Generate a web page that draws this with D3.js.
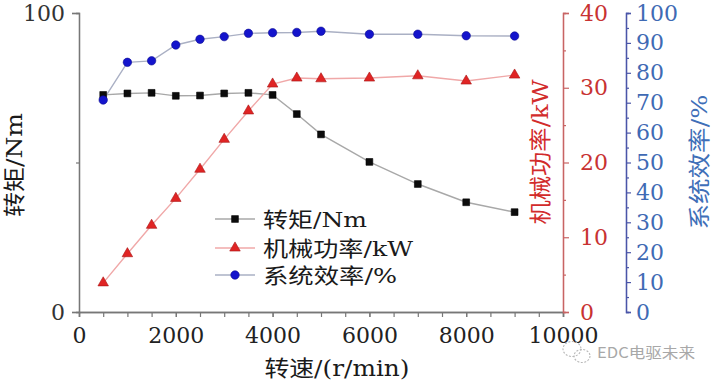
<!DOCTYPE html>
<html><head><meta charset="utf-8">
<script src="https://cdn.jsdelivr.net/npm/d3@7"></script>
<style>
html,body{margin:0;padding:0;background:#fff;}
svg{display:block;}
</style></head>
<body>
<svg id="c" width="718" height="382"></svg>
<script>
// ---- data ----
const speed = [500,1000,1500,2000,2500,3000,3500,4000,4500,5000,6000,7000,8000,9000];
const torque = [72.6,73.1,73.3,72.3,72.4,73.1,73.3,72.6,66.2,59.4,50.2,42.8,36.7,33.4];
const power = [3.9,7.8,11.6,15.2,19.1,23.1,26.9,30.5,31.3,31.2,31.3,31.6,30.9,31.7];
const efficiency = [70.9,83.5,84.0,89.3,91.2,92.1,93.2,93.4,93.5,93.9,92.9,92.9,92.4,92.3];
const xTicks = [0,2000,4000,6000,8000,10000];
const leftTicks = [0,100];
const redTicks = [0,10,20,30,40];
const blueTicks = [0,10,20,30,40,50,60,70,80,90,100];
const seriesNames = ["转矩/Nm","机械功率/kW","系统效率/%"];
const xTitle = "转速/(r/min)";
const watermark = "EDC电驱未来";

// ---- layout ----
const L = 79, R = 563, T = 13, B = 312, BX = 626;
const svg = d3.select("#c");
const numFont = "'DejaVu Serif','Liberation Serif',serif";
const cjkFont = "'DejaVu Serif','Noto Sans CJK SC',sans-serif";

const x = d3.scaleLinear().domain([0,10000]).range([L,R]);
const yL = d3.scaleLinear().domain([0,100]).range([B,T]);
const yR = d3.scaleLinear().domain([0,40]).range([B,T]);
const yB = d3.scaleLinear().domain([0,100]).range([B,T]);

function styleAxis(g, color, textColor){
  g.selectAll("path.domain").attr("stroke", color).attr("stroke-width",1.3);
  g.selectAll(".tick line").attr("stroke", color).attr("stroke-width",1.2);
  g.selectAll("text").attr("fill", textColor).attr("font-family", numFont).attr("font-size",22);
}

// x axis minor
const gxm = svg.append("g").attr("transform",`translate(0,${B})`)
  .call(d3.axisBottom(x).tickValues(d3.range(0,10001,500)).tickSize(5).tickFormat(""));
styleAxis(gxm,"#777","#222");
const gx = svg.append("g").attr("transform",`translate(0,${B})`)
  .call(d3.axisBottom(x).tickValues(xTicks).tickSize(5).tickPadding(10).tickFormat(d3.format("d")));
styleAxis(gx,"#777","#222");

// left axis
const glm = svg.append("g").attr("transform",`translate(${L},0)`)
  .call(d3.axisLeft(yL).tickValues([50]).tickSize(3).tickFormat(""));
styleAxis(glm,"#777","#333");
const gl = svg.append("g").attr("transform",`translate(${L},0)`)
  .call(d3.axisLeft(yL).tickValues(leftTicks).tickSize(7).tickPadding(7).tickFormat(d3.format("d")));
styleAxis(gl,"#777","#333");

// red axis
const grm = svg.append("g").attr("transform",`translate(${R},0)`)
  .call(d3.axisRight(yR).tickValues(d3.range(5,40,10)).tickSize(3).tickFormat(""));
styleAxis(grm,"#c86464","#c83232");
const gr = svg.append("g").attr("transform",`translate(${R},0)`)
  .call(d3.axisRight(yR).tickValues(redTicks).tickSize(6).tickPadding(11).tickFormat(d3.format("d")));
styleAxis(gr,"#c86464","#c83232");

// blue axis
const gbm = svg.append("g").attr("transform",`translate(${BX},0)`)
  .call(d3.axisRight(yB).tickValues(d3.range(5,100,10)).tickSize(3).tickFormat(""));
styleAxis(gbm,"#4a55a8","#3f6ab4");
const gb = svg.append("g").attr("transform",`translate(${BX},0)`)
  .call(d3.axisRight(yB).tickValues(blueTicks).tickSize(5).tickPadding(5).tickFormat(d3.format("d")));
styleAxis(gb,"#4a55a8","#3f6ab4");

// ---- series ----
const series = [
  {vals: torque, y: yL, line:"#a8a8a8", sym:d3.symbolSquare, size:46, fill:"#0c0c0c", stroke:"#000"},
  {vals: power, y: yR, line:"#f0a8a8", sym:d3.symbolTriangle, size:48, fill:"#e02424", stroke:"#a81414"},
  {vals: efficiency, y: yB, line:"#aab0c4", sym:d3.symbolCircle, size:56, fill:"#1414cc", stroke:"#0a0a90"}
];
series.forEach(s=>{
  const line = d3.line().x((d,i)=>x(speed[i])).y(d=>s.y(d));
  svg.append("path").attr("d", line(s.vals)).attr("fill","none")
    .attr("stroke", s.line).attr("stroke-width",1.4);
});
series.forEach(s=>{
  svg.append("g").selectAll("path").data(s.vals).join("path")
    .attr("transform",(d,i)=>`translate(${x(speed[i])},${s.y(d)})`)
    .attr("d", d3.symbol().type(s.sym).size(s.size)())
    .attr("fill", s.fill).attr("stroke", s.stroke).attr("stroke-width",0.6);
});

// ---- legend ----
const legY = [219, 248, 275];
const legLen = [104, 150, 134];
series.forEach((s,i)=>{
  const g = svg.append("g");
  g.append("line").attr("x1",215).attr("x2",255).attr("y1",legY[i]).attr("y2",legY[i])
    .attr("stroke", s.line).attr("stroke-width",1.4);
  g.append("path").attr("transform",`translate(235,${legY[i]})`)
    .attr("d", d3.symbol().type(s.sym).size(s.size)())
    .attr("fill", s.fill).attr("stroke", s.stroke).attr("stroke-width",0.6);
  g.append("text").attr("x",263).attr("y",legY[i]).attr("dy","0.36em")
    .attr("font-family",cjkFont).attr("font-size",21).attr("fill","#1a1a1a")
    .attr("textLength",legLen[i]).attr("lengthAdjust","spacingAndGlyphs")
    .text(seriesNames[i]);
});

// ---- titles ----
function vtitle(txt, cx, cy, len, color){
  svg.append("text").attr("transform",`translate(${cx},${cy}) rotate(-90)`)
    .attr("text-anchor","middle").attr("dy","0.36em")
    .attr("font-family",cjkFont).attr("font-size",22).attr("fill",color)
    .attr("textLength",len).attr("lengthAdjust","spacingAndGlyphs").text(txt);
}
vtitle(seriesNames[0].replace(/.*/, "转矩/Nm"), 14, 165, 104, "#1a1a1a");
vtitle("机械功率/kW", 540, 152, 145, "#d22b2b");
vtitle("系统效率/%", 699, 162, 135, "#3f6fb8");

svg.append("text").attr("x",337).attr("y",368).attr("text-anchor","middle").attr("dy","0.36em")
  .attr("font-family",cjkFont).attr("font-size",22).attr("fill","#1a1a1a")
  .attr("textLength",145).attr("lengthAdjust","spacingAndGlyphs").text(xTitle);

// ---- watermark ----
const wm = svg.append("g").attr("fill","none").attr("stroke","#b8b8b8").attr("stroke-width",1.1).attr("stroke-dasharray","2,1.5");
wm.append("ellipse").attr("cx",572).attr("cy",349).attr("rx",9).attr("ry",7.5);
wm.append("ellipse").attr("cx",582).attr("cy",356).attr("rx",8).attr("ry",6.5);
svg.append("text").attr("x",597).attr("y",353).attr("dy","0.36em")
  .attr("font-family","'Noto Sans CJK SC',sans-serif").attr("font-size",15).attr("fill","#a8a8a8")
  .attr("textLength",98).attr("lengthAdjust","spacingAndGlyphs").text(watermark);
</script>
</body></html>
